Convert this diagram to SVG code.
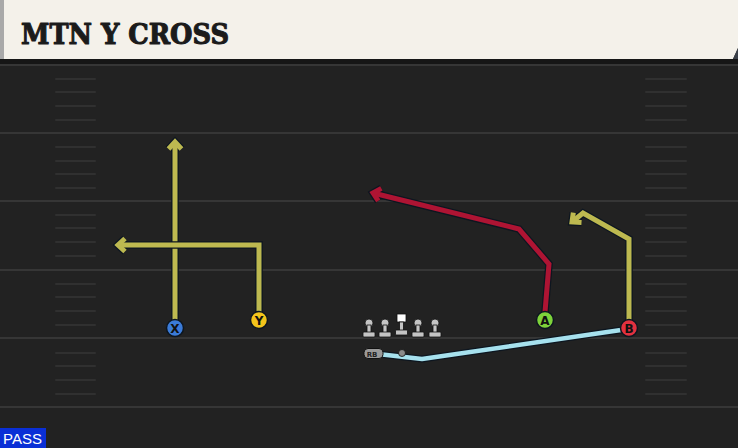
<svg xmlns="http://www.w3.org/2000/svg" width="738" height="448" viewBox="0 0 738 448">
<style>
.yard{stroke:#363636;stroke-width:2}
.hash{stroke:#303030;stroke-width:2;stroke-linecap:round}
.out{fill:none;stroke:#0d1620;stroke-width:7.5;stroke-linejoin:miter}
.olive{fill:none;stroke:#bdb950;stroke-width:5;stroke-linejoin:miter}
.red{fill:none;stroke:#ae1433;stroke-width:5;stroke-linejoin:miter}
.blue{fill:none;stroke:#a6e1ee;stroke-width:4.5;stroke-linejoin:round}
.lbl{font-family:"DejaVu Sans",sans-serif;font-weight:bold;font-size:12px;fill:#111;text-anchor:middle}
.ol{fill:#c4c4c4;stroke:#111;stroke-width:0.8}
</style>
<defs>
<marker id="mo" markerUnits="userSpaceOnUse" orient="auto" refX="0" refY="0" markerWidth="30" markerHeight="30" viewBox="-15 -15 30 30" overflow="visible">
<path d="M-7,-6.5 L0,0 L-7,6.5" fill="none" stroke="#0d1620" stroke-width="7.5"/>
</marker>
<marker id="mol" markerUnits="userSpaceOnUse" orient="auto" refX="0" refY="0" markerWidth="30" markerHeight="30" viewBox="-15 -15 30 30" overflow="visible">
<path d="M-7,-6.5 L0,0 L-7,6.5" fill="none" stroke="#bdb950" stroke-width="5"/>
</marker>
<marker id="mr" markerUnits="userSpaceOnUse" orient="auto" refX="0" refY="0" markerWidth="30" markerHeight="30" viewBox="-15 -15 30 30" overflow="visible">
<path d="M-7,-6.5 L0,0 L-7,6.5" fill="none" stroke="#ae1433" stroke-width="5"/>
</marker>
</defs>
<rect x="0" y="0" width="738" height="448" fill="#222222"/>
<g id="field">
<line class="yard" x1="0" y1="65" x2="738" y2="65"/>
<line class="yard" x1="0" y1="133" x2="738" y2="133"/>
<line class="yard" x1="0" y1="201" x2="738" y2="201"/>
<line class="yard" x1="0" y1="270" x2="738" y2="270"/>
<line class="yard" x1="0" y1="338" x2="738" y2="338"/>
<line class="yard" x1="0" y1="407" x2="738" y2="407"/>
<g id="hash-left">
<line class="hash" x1="56" y1="79" x2="95" y2="79"/><line class="hash" x1="56" y1="92" x2="95" y2="92"/><line class="hash" x1="56" y1="106" x2="95" y2="106"/><line class="hash" x1="56" y1="120" x2="95" y2="120"/>
<line class="hash" x1="56" y1="147" x2="95" y2="147"/><line class="hash" x1="56" y1="161" x2="95" y2="161"/><line class="hash" x1="56" y1="174" x2="95" y2="174"/><line class="hash" x1="56" y1="188" x2="95" y2="188"/>
<line class="hash" x1="56" y1="215" x2="95" y2="215"/><line class="hash" x1="56" y1="228" x2="95" y2="228"/><line class="hash" x1="56" y1="242" x2="95" y2="242"/><line class="hash" x1="56" y1="256" x2="95" y2="256"/>
<line class="hash" x1="56" y1="284" x2="95" y2="284"/><line class="hash" x1="56" y1="297" x2="95" y2="297"/><line class="hash" x1="56" y1="311" x2="95" y2="311"/><line class="hash" x1="56" y1="325" x2="95" y2="325"/>
<line class="hash" x1="56" y1="353" x2="95" y2="353"/><line class="hash" x1="56" y1="366" x2="95" y2="366"/><line class="hash" x1="56" y1="380" x2="95" y2="380"/><line class="hash" x1="56" y1="394" x2="95" y2="394"/>
</g>
<g id="hash-right">
<line class="hash" x1="646" y1="79" x2="686" y2="79"/><line class="hash" x1="646" y1="92" x2="686" y2="92"/><line class="hash" x1="646" y1="106" x2="686" y2="106"/><line class="hash" x1="646" y1="120" x2="686" y2="120"/>
<line class="hash" x1="646" y1="147" x2="686" y2="147"/><line class="hash" x1="646" y1="161" x2="686" y2="161"/><line class="hash" x1="646" y1="174" x2="686" y2="174"/><line class="hash" x1="646" y1="188" x2="686" y2="188"/>
<line class="hash" x1="646" y1="215" x2="686" y2="215"/><line class="hash" x1="646" y1="228" x2="686" y2="228"/><line class="hash" x1="646" y1="242" x2="686" y2="242"/><line class="hash" x1="646" y1="256" x2="686" y2="256"/>
<line class="hash" x1="646" y1="284" x2="686" y2="284"/><line class="hash" x1="646" y1="297" x2="686" y2="297"/><line class="hash" x1="646" y1="311" x2="686" y2="311"/><line class="hash" x1="646" y1="325" x2="686" y2="325"/>
<line class="hash" x1="646" y1="353" x2="686" y2="353"/><line class="hash" x1="646" y1="366" x2="686" y2="366"/><line class="hash" x1="646" y1="380" x2="686" y2="380"/><line class="hash" x1="646" y1="394" x2="686" y2="394"/>
</g>
</g>
<g id="header">
<rect x="0" y="58" width="738" height="6" fill="#161616"/>
<polygon points="0,0 738,0 738,48 733,59 0,59" fill="#f4f1ea"/>
<polygon points="733,59 738,48 738,59" fill="#3a3f48"/>
<rect x="0" y="0" width="4" height="59" fill="#a9a9a9"/>
<text x="21" y="44" font-family="'DejaVu Serif',serif" font-weight="bold" font-size="28" textLength="208" lengthAdjust="spacingAndGlyphs" fill="#1b1b1b" stroke="#1b1b1b" stroke-width="1.1" stroke-linejoin="round">MTN Y CROSS</text>
</g>
<g id="connectors">
<g id="route-x">
<path class="out" d="M175,320 L175,142" marker-end="url(#mo)"/>
<path class="olive" d="M175,320 L175,142" marker-end="url(#mol)"/>
</g>
<g id="route-y">
<path class="out" d="M259,312 L259,245 L118,245" marker-end="url(#mo)"/>
<path class="olive" d="M259,312 L259,245 L118,245" marker-end="url(#mol)"/>
</g>
<g id="route-a">
<path class="out" d="M545,312 L549,264 L519,229 L373,193" marker-end="url(#mo)"/>
<path class="red" d="M545,312 L549,264 L519,229 L373,193" marker-end="url(#mr)"/>
</g>
<g id="route-b">
<path class="out" d="M629,320 L629,239 L583,213 L572,222" marker-end="url(#mo)"/>
<path class="olive" d="M629,320 L629,239 L583,213 L572,222" marker-end="url(#mol)"/>
</g>
<g id="route-rb">
<path d="M378,354 L422,359 L621,330" fill="none" stroke="#0d1620" stroke-width="7" stroke-linejoin="round"/>
<path class="blue" d="M378,354 L422,359 L621,330"/>
</g>
</g>
<g id="line">
<g id="lt"><circle class="ol" cx="369" cy="323" r="4"/><rect class="ol" x="367" y="325" width="4" height="9"/><rect class="ol" x="363" y="332" width="12" height="5" rx="1"/></g>
<g id="lg"><circle class="ol" cx="385" cy="323" r="4"/><rect class="ol" x="383" y="325" width="4" height="9"/><rect class="ol" x="379" y="332" width="12" height="5" rx="1"/></g>
<g id="c"><rect x="397" y="314" width="9" height="8" fill="#ffffff" stroke="#111" stroke-width="0.8"/><rect class="ol" x="399.5" y="322" width="4" height="9"/><rect class="ol" x="395.5" y="330" width="12" height="5" rx="1"/></g>
<g id="rg"><circle class="ol" cx="418" cy="323" r="4"/><rect class="ol" x="416" y="325" width="4" height="9"/><rect class="ol" x="412" y="332" width="12" height="5" rx="1"/></g>
<g id="rt"><circle class="ol" cx="435" cy="323" r="4"/><rect class="ol" x="433" y="325" width="4" height="9"/><rect class="ol" x="429" y="332" width="12" height="5" rx="1"/></g>
</g>
<g id="qb"><circle cx="402" cy="353" r="3.5" fill="#8a8a8a" stroke="#111" stroke-width="0.8"/></g>
<g id="rb">
<rect x="364" y="348.5" width="19" height="10" rx="4" fill="#9a9a9a" stroke="#111" stroke-width="1"/>
<text x="372" y="356.5" font-family="'DejaVu Sans',sans-serif" font-size="7" font-weight="bold" fill="#222" text-anchor="middle">RB</text>
</g>
<g id="x"><circle cx="175" cy="328" r="8.5" fill="#3b7bd8" stroke="#0d1620" stroke-width="1.5"/><text class="lbl" x="175" y="332.5">X</text></g>
<g id="y"><circle cx="259" cy="320" r="8.5" fill="#f3c41b" stroke="#0d1620" stroke-width="1.5"/><text class="lbl" x="259" y="324.5">Y</text></g>
<g id="a"><circle cx="545" cy="320" r="8.5" fill="#7ed23a" stroke="#0d1620" stroke-width="1.5"/><text class="lbl" x="545" y="324.5">A</text></g>
<g id="b"><circle cx="629" cy="328" r="8.5" fill="#e2313f" stroke="#0d1620" stroke-width="1.5"/><text class="lbl" x="629" y="332.5">B</text></g>
<g id="pass">
<rect x="0" y="428" width="46" height="20" fill="#0a2fd6"/>
<text x="3" y="444" font-family="'Liberation Sans',sans-serif" font-size="15" fill="#ffffff">PASS</text>
</g>
</svg>
